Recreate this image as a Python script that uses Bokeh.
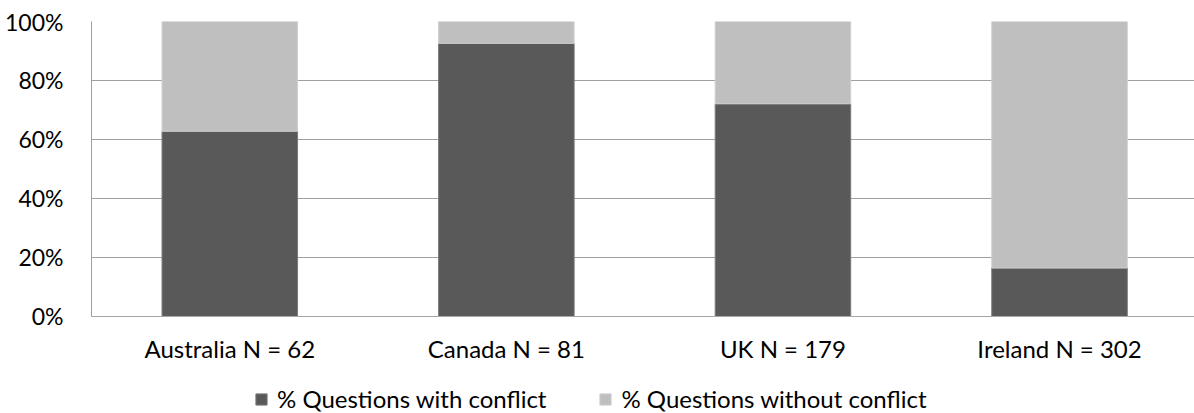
from bokeh.plotting import figure
from bokeh.models import (ColumnDataSource, FixedTicker, NumeralTickFormatter, Legend,
                          LegendItem, Range1d, LinearAxis)
from bokeh.embed import file_html
from bokeh.resources import INLINE

categories = ["Australia N = 62", "Canada N = 81", "UK N = 179", "Ireland N = 302"]
with_conflict = [0.628, 0.926, 0.721, 0.164]
without_conflict = [1 - v for v in with_conflict]
series_names = ["% Questions with conflict", "% Questions without conflict"]
colors = ["#595959", "#bfbfbf"]
y_ticks = [0, 0.2, 0.4, 0.6, 0.8, 1.0]

xpos = [i + 0.5 for i in range(len(categories))]
src = ColumnDataSource(dict(
    x=xpos,
    wc=with_conflict,
    top2=[a + b for a, b in zip(with_conflict, without_conflict)],
    zero=[0] * len(categories),
))

FONT = "Lato"
FS = "24px"
p = figure(frame_width=1103, frame_height=392, output_backend="svg", toolbar_location=None,
           x_range=Range1d(0, 3.988), y_range=Range1d(-0.3294, 1),
           x_axis_location=None,
           min_border_left=91, min_border_right=0, min_border_top=21, min_border_bottom=0)
p.outline_line_color = None

r1 = p.vbar(x="x", bottom="zero", top="wc", width=0.49, source=src,
            fill_color=colors[0], line_color="#7a7a7a", line_width=1)
r2 = p.vbar(x="x", bottom="wc", top="top2", width=0.49, source=src,
            fill_color=colors[1], line_color="#cfcfcf", line_width=1)

xaxis = LinearAxis(fixed_location=0)
xaxis.ticker = FixedTicker(ticks=xpos)
xaxis.major_label_overrides = {x: c for x, c in zip(xpos, categories)}
xaxis.major_tick_line_color = None
xaxis.minor_tick_line_color = None
xaxis.axis_line_color = "#a6a6a6"
xaxis.major_label_standoff = 12
xaxis.major_label_text_font = FONT
xaxis.major_label_text_font_size = FS
xaxis.major_label_text_color = "#000000"
p.add_layout(xaxis, "below")

p.yaxis.ticker = FixedTicker(ticks=y_ticks)
p.yaxis.bounds = (0, 1)
p.yaxis.formatter = NumeralTickFormatter(format="0%")
p.yaxis.major_tick_line_color = None
p.yaxis.minor_tick_line_color = None
p.yaxis.axis_line_color = "#a0a0a0"
p.yaxis.major_label_standoff = 22
p.yaxis.major_label_text_font = FONT
p.yaxis.major_label_text_font_size = "23px"
p.yaxis.major_label_text_color = "#000000"

p.xgrid.grid_line_color = None
p.ygrid.grid_line_color = "#a0a0a0"
p.ygrid.grid_line_width = 1

legend = Legend(items=[LegendItem(label=series_names[0], renderers=[r1]),
                       LegendItem(label=series_names[1], renderers=[r2])],
                orientation="horizontal", location=(163, 0))
legend.glyph_width = 14
legend.glyph_height = 14
legend.label_standoff = 9
legend.spacing = 52
legend.padding = 0
legend.margin = 0
legend.border_line_color = None
legend.background_fill_alpha = 0
legend.label_text_font = FONT
legend.label_text_font_size = FS
legend.label_text_color = "#000000"
p.add_layout(legend, "center")

open("out.html", "w").write(file_html(p, INLINE))
